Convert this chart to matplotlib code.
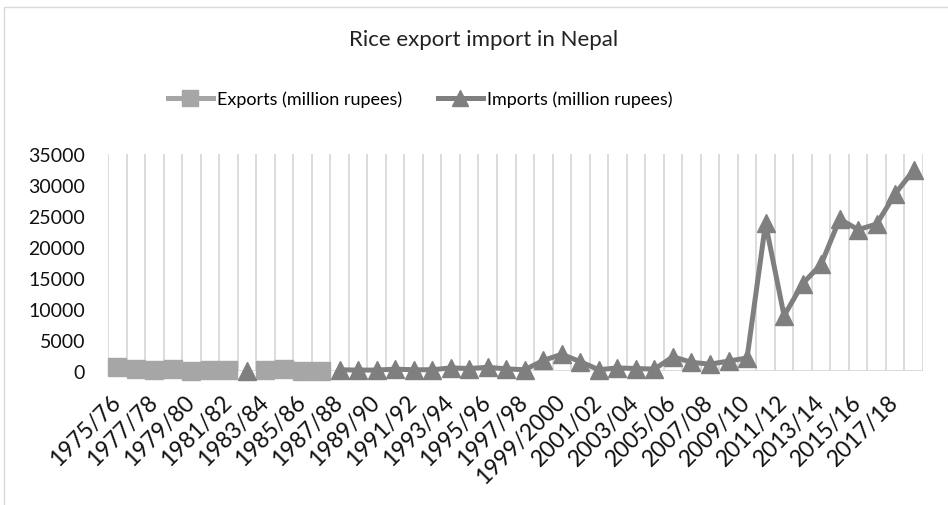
import numpy as np
import matplotlib.pyplot as plt
import matplotlib.transforms as mtransforms
from matplotlib.patches import Rectangle

plt.rcParams['font.family'] = ['Lato', 'DejaVu Sans']

# category labels (fiscal years)
years = ['1975/76', '1976/77', '1977/78', '1978/79', '1979/80', '1980/81',
         '1981/82', '1982/83', '1983/84', '1984/85', '1985/86', '1986/87',
         '1987/88', '1988/89', '1989/90', '1990/91', '1991/92', '1992/93',
         '1993/94', '1994/95', '1995/96', '1996/97', '1997/98', '1998/99',
         '1999/2000', '2000/01', '2001/02', '2002/03', '2003/04', '2004/05',
         '2005/06', '2006/07', '2007/08', '2008/09', '2009/10', '2010/11',
         '2011/12', '2012/13', '2013/14', '2014/15', '2015/16', '2016/17',
         '2017/18', '2018/19']

nan = np.nan
# million rupees
exports = [600, 400, 150, 300, 50, 100, 200, nan, 100, 400, 50, 50,
           nan, nan, nan, nan, nan, nan, nan, nan, nan, nan, nan, nan,
           nan, nan, nan, nan, nan, nan, nan, nan, nan, nan, nan, nan,
           nan, nan, nan, nan, nan, nan, nan, nan]
imports = [nan, nan, nan, nan, nan, nan, nan, 50, nan, nan, nan, nan,
           200, 150, 150, 300, 200, 200, 500, 400, 600, 350, 200, 1700,
           2700, 1500, 200, 500, 400, 300, 2300, 1400, 1100, 1600, 2100, 23800,
           8900, 14100, 17200, 24500, 22800, 23700, 28600, 32400]

yticks = [0, 5000, 10000, 15000, 20000, 25000, 30000, 35000]

W, H = 948, 506
fig = plt.figure(figsize=(W / 100, H / 100), dpi=100)
ax = fig.add_axes([108 / W, 1 - 372 / H, (923 - 108) / W, (372 - 155) / H])

x = np.arange(len(years))
exp_color = '#a6a6a6'
imp_color = '#7f7f7f'
ax.plot(x, np.array(exports, dtype=float), color=exp_color, lw=3.6,
        marker='s', ms=13, mec=exp_color, mfc=exp_color,
        label='Exports (million rupees)', zorder=3, clip_on=False)
ax.plot(x, np.array(imports, dtype=float), color=imp_color, lw=3.6,
        marker='^', ms=13, mec=imp_color, mfc=imp_color,
        label='Imports (million rupees)', zorder=4, clip_on=False)

ax.set_xlim(-0.5, len(years) - 0.5)
ax.set_ylim(0, 35000)

# vertical gridlines between categories
for b in np.arange(-0.5, len(years), 1.0):
    ax.axvline(b, color='#d9d9d9', lw=1.3, zorder=1)
ax.axhline(0, color='#d9d9d9', lw=1.3, zorder=1)

for s in ax.spines.values():
    s.set_visible(False)

ax.tick_params(axis='both', length=0)
ax.tick_params(axis='y', pad=16.5)
ax.tick_params(axis='x', pad=0)
ax.set_yticks(yticks)
ax.set_yticklabels([str(v) for v in yticks], fontsize=14, color='#111111')
ax.set_xticks(x[::2])
ax.set_xticklabels(years[::2], rotation=45, ha='right', va='center',
                   rotation_mode='anchor', fontsize=16.5, color='#111111')
# slanted labels sit a bit below the axis, like the original
shift = mtransforms.ScaledTranslation(0, -27 / 100, fig.dpi_scale_trans)
for lab in ax.get_xticklabels():
    lab.set_transform(lab.get_transform() + shift)

fig.text(484 / W, 1 - 40 / H, 'Rice export import in Nepal', ha='center',
         va='center', fontsize=16, color='#222222')

fig.legend(loc='center', bbox_to_anchor=(420 / W, 1 - 100 / H), ncol=2,
           frameon=False, fontsize=13, handlelength=2.5, handletextpad=0.22,
           columnspacing=2.0, markerscale=0.85)

# chart border (cropped at right and bottom)
fig.patches.append(Rectangle((4 / W, -0.1), 1.2, 1.1 - 8 / H,
                             transform=fig.transFigure, fill=False,
                             edgecolor='#d9d9d9', lw=1.0))

fig.savefig('out.png', dpi=100)
